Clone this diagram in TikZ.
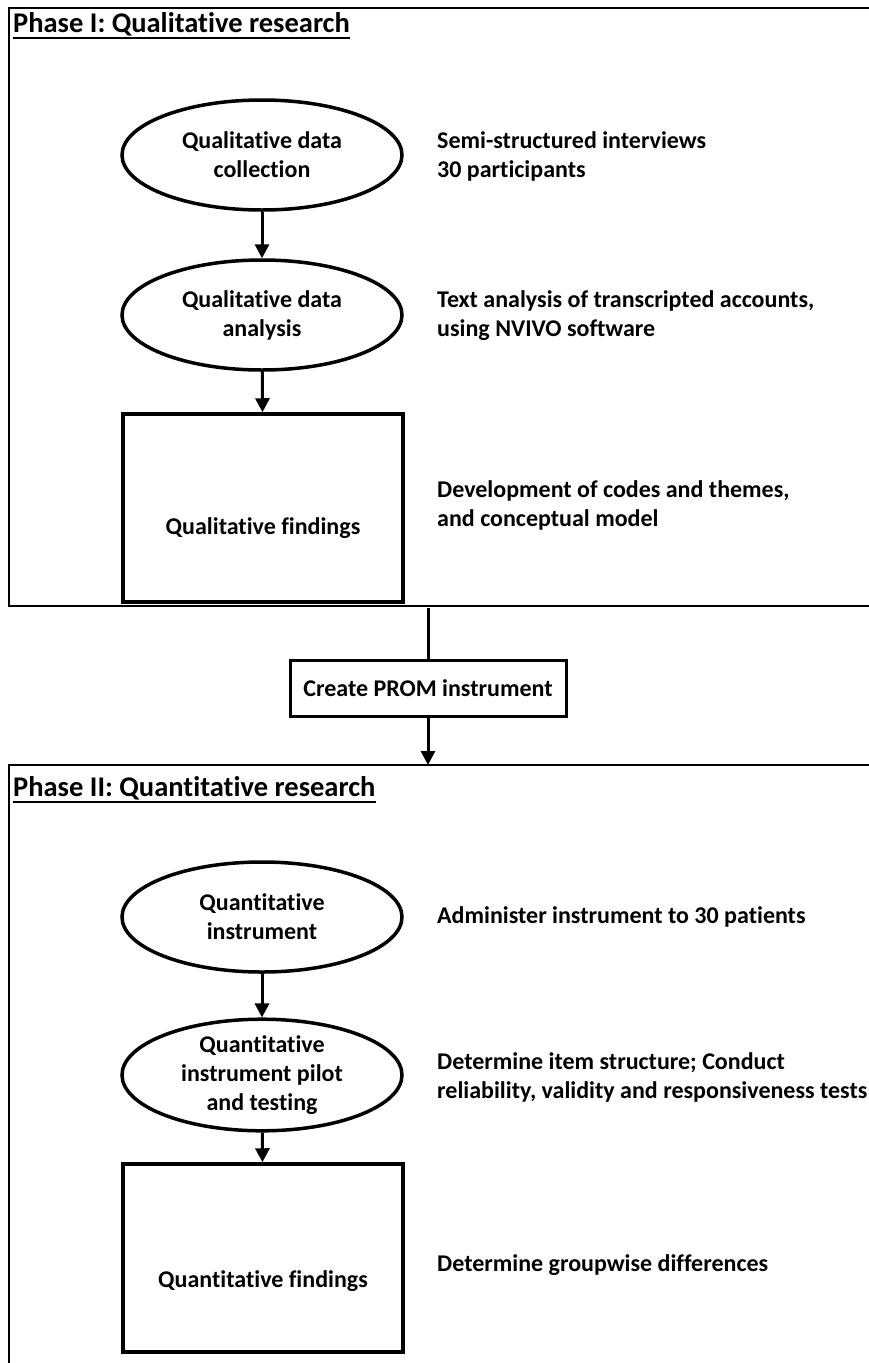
\documentclass[tikz,border=0pt]{standalone}
\usepackage{fontspec}
\setmainfont{Carlito}[Ligatures=NoCommon]
\usetikzlibrary{shapes.geometric,arrows.meta}
\begin{document}
\begin{tikzpicture}[x=1pt,y=-1pt,
  every node/.style={font=\bfseries\fontsize{24}{29}\selectfont, align=center, inner sep=0pt},
  ell/.style={ellipse, draw, line width=3.5pt, minimum width=280pt, minimum height=110pt},
  boxnode/.style={rectangle, draw, line width=3.5pt, minimum width=280pt, minimum height=188pt},
  promnode/.style={rectangle, draw, line width=3pt, minimum width=276pt, minimum height=56pt},
  side/.style={anchor=west, align=left},
  ttl/.style={anchor=base west, font=\bfseries\fontsize{28.5}{32}\selectfont},
  arr/.style={line width=3pt, -{Triangle[length=14pt,width=14pt]}},
  conn/.style={line width=3pt},
  frm/.style={line width=2pt}
]
\useasboundingbox (0,0) rectangle (869,1363);
\fill[white] (0,0) rectangle (869,1363);
\clip (0,0) rectangle (869,1363);

% Phase I frame
\draw[frm] (880,8) -- (9,8) -- (9,606) -- (880,606);
\node[ttl] (t1) at (13,32) {Phase I: Qualitative research};
\draw[line width=2.5pt] ([yshift=-6pt]t1.base west) -- ([yshift=-6pt]t1.base east);

\node[ell] (e1) at (262,155) {Qualitative data\\collection};
\node[side] (d1) at (437,156) {Semi-structured interviews\\30 participants};
\node[ell] (e2) at (262,315) {Qualitative data\\analysis};
\node[side] (d2) at (437,316) {Text analysis of transcripted accounts,\\using NVIVO software};
\node[boxnode] (b1) at (263,508) {};
\node (b1t) at (263,528) {Qualitative findings};
\node[side] (d3) at (437,505) {Development of codes and themes,\\and conceptual model};

\draw[arr] (e1) -- (e2);
\draw[arr] (e2) -- (b1);

% bridge
\coordinate (c1) at (428,608);
\node[promnode] (prom) at (428,688) {Create PROM instrument};
\coordinate (c2) at (428,765);
\draw[conn] (c1) -- (prom);
\draw[arr] (prom) -- (c2);

% Phase II frame
\draw[frm] (880,765) -- (9,765) -- (9,1380);
\node[ttl] (t2) at (13,796) {Phase II: Quantitative research};
\draw[line width=2.5pt] ([yshift=-6pt]t2.base west) -- ([yshift=-6pt]t2.base east);

\node[ell] (e3) at (262,917) {Quantitative\\instrument};
\node[side] (d4) at (437,917) {Administer instrument to 30 patients};
\node[ell] (e4) at (262,1075) {Quantitative\\instrument pilot\\and testing};
\node[side] (d5) at (437,1077) {Determine item structure; Conduct\\reliability, validity and responsiveness tests};
\node[boxnode] (b2) at (263,1258) {};
\node (b2t) at (263,1281) {Quantitative findings};
\node[side] (d6) at (437,1265) {Determine groupwise differences};

\draw[arr] (e3) -- (e4);
\draw[arr] (e4) -- (b2);
\end{tikzpicture}
\end{document}
